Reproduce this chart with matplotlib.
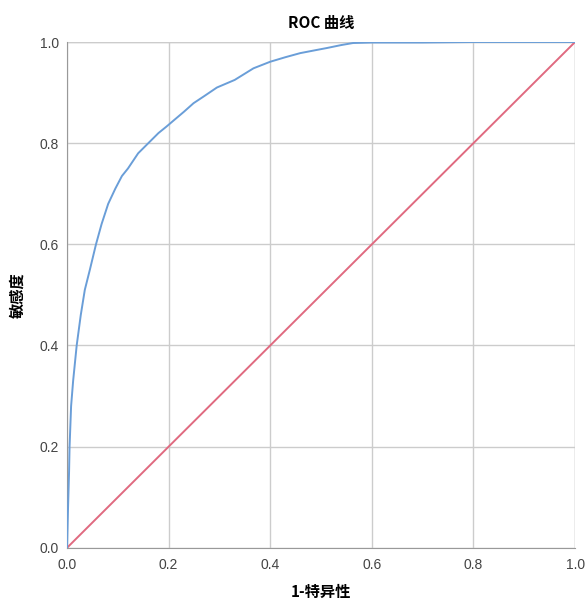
import matplotlib.pyplot as plt

plt.rcParams['font.family'] = ['Noto Sans CJK SC', 'DejaVu Sans']

# ROC curve
fpr = [0.0, 0.002, 0.004, 0.005, 0.008, 0.012, 0.019, 0.027, 0.035, 0.045,
       0.057, 0.068, 0.081, 0.095, 0.108, 0.12, 0.14, 0.16, 0.18, 0.196,
       0.21, 0.23, 0.249, 0.27, 0.295, 0.33, 0.367, 0.4, 0.43, 0.459,
       0.49, 0.511, 0.54, 0.563, 0.6, 0.7, 0.8, 0.9, 1.0]
tpr = [0.0, 0.08, 0.15, 0.2, 0.28, 0.33, 0.4, 0.46, 0.51, 0.55,
       0.6, 0.64, 0.68, 0.71, 0.735, 0.75, 0.78, 0.80, 0.82, 0.833,
       0.845, 0.862, 0.879, 0.893, 0.91, 0.925, 0.948, 0.961, 0.97, 0.978,
       0.984, 0.988, 0.994, 0.998, 0.999, 0.999, 1.0, 1.0, 1.0]
ref = [0.0, 1.0]
ticks = [0.0, 0.2, 0.4, 0.6, 0.8, 1.0]

fig = plt.figure(figsize=(5.88, 6.0), dpi=100)
ax = fig.add_axes([0.114, 0.087, 0.864, 0.843])

ax.plot(fpr, tpr, color='#6a9ed8', lw=1.4, zorder=3)
ax.plot(ref, ref, color='#e06a80', lw=1.4, zorder=2)

ax.set_xlim(0, 1)
ax.set_ylim(0, 1)
ax.set_xticks(ticks)
ax.set_yticks(ticks)
ax.set_xticklabels(['%.1f' % t for t in ticks], family='Liberation Sans')
ax.set_yticklabels(['%.1f' % t for t in ticks], family='Liberation Sans')
ax.tick_params(length=0, labelsize=10, colors='#444444')
ax.tick_params(axis='x', pad=7)
ax.tick_params(axis='y', pad=6)
ax.grid(True, color='#cccccc', lw=1.0)
ax.set_axisbelow(True)

for s in ['top', 'right']:
    ax.spines[s].set_visible(False)
for s in ['left', 'bottom']:
    ax.spines[s].set_color('#999999')
ax.axvline(1.0, color='#cccccc', lw=1.0, zorder=1)
ax.axhline(1.0, color='#cccccc', lw=1.0, zorder=1)

ax.set_title('ROC 曲线', fontsize=11, fontweight='bold', pad=10)
ax.set_xlabel('1-特异性', fontsize=11, fontweight='bold', labelpad=9)
ax.set_ylabel('敏感度', fontsize=11, fontweight='bold', labelpad=10)

fig.savefig('out.png', dpi=100, facecolor='white')
